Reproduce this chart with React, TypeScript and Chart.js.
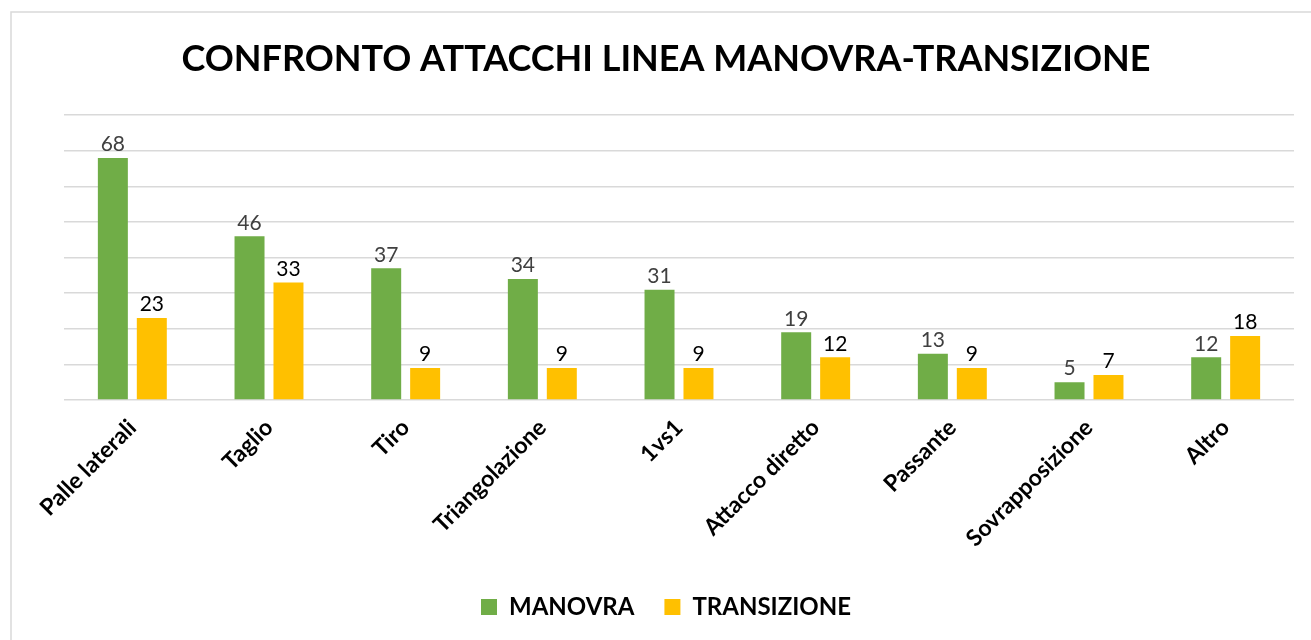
import React, { useEffect, useRef } from "react";
import { Chart, registerables } from "chart.js";

Chart.register(...registerables);

const categories = [
  "Palle laterali",
  "Taglio",
  "Tiro",
  "Triangolazione",
  "1vs1",
  "Attacco diretto",
  "Passante",
  "Sovrapposizione",
  "Altro",
];
const manovra = [68, 46, 37, 34, 31, 19, 13, 5, 12];
const transizione = [23, 33, 9, 9, 9, 12, 9, 7, 18];
const seriesNames = ["MANOVRA", "TRANSIZIONE"];
const titleText = "CONFRONTO ATTACCHI LINEA MANOVRA-TRANSIZIONE";

const FONT = "Lato, 'Open Sans', sans-serif";

const framePlugin = {
  id: "frame",
  beforeDraw(chart: any) {
    const ctx = chart.ctx;
    ctx.save();
    ctx.fillStyle = "#ffffff";
    ctx.fillRect(0, 0, chart.width, chart.height);
    ctx.strokeStyle = "#d9d9d9";
    ctx.lineWidth = 1.5;
    ctx.beginPath();
    ctx.moveTo(11, chart.height);
    ctx.lineTo(11, 12);
    ctx.lineTo(chart.width, 12);
    ctx.stroke();
    ctx.restore();
  },
};

const labelPlugin = {
  id: "valueLabels",
  afterDatasetsDraw(chart: any) {
    const ctx = chart.ctx;
    ctx.save();
    ctx.font = `21px ${FONT}`;
    ctx.textAlign = "center";
    ctx.textBaseline = "bottom";
    chart.data.datasets.forEach((ds: any, di: number) => {
      const meta = chart.getDatasetMeta(di);
      ctx.fillStyle = di === 0 ? "#404040" : "#000000";
      meta.data.forEach((el: any, i: number) => {
        ctx.fillText(String(ds.data[i]), el.x, el.y - 3);
      });
    });
    ctx.restore();
  },
};

export default function App() {
  const ref = useRef<HTMLCanvasElement>(null);
  useEffect(() => {
    document.body.style.margin = "0";
    const chart = new Chart(ref.current!, {
      type: "bar",
      data: {
        labels: categories,
        datasets: [
          {
            label: seriesNames[0],
            data: manovra,
            backgroundColor: "#70AD47",
            categoryPercentage: 0.57,
            barPercentage: 0.77,
          },
          {
            label: seriesNames[1],
            data: transizione,
            backgroundColor: "#FFC000",
            categoryPercentage: 0.57,
            barPercentage: 0.77,
          },
        ],
      },
      options: {
        animation: false,
        responsive: false,
        layout: { padding: { left: 38, right: 17, top: 30, bottom: 11 } },
        plugins: {
          title: {
            display: true,
            text: titleText,
            color: "#000",
            font: { family: FONT, size: 36, weight: "bold" },
            padding: { top: 8, bottom: 34 },
          },
          legend: {
            position: "bottom",
            labels: {
              color: "#000",
              font: { family: FONT, size: 24, weight: "bold" },
              boxWidth: 16,
              boxHeight: 16,
              padding: 30,
            },
          },
          tooltip: { enabled: false },
        },
        scales: {
          x: {
            grid: { display: false },
            border: { display: false },
            ticks: {
              color: "#000",
              font: { family: FONT, size: 23, weight: "bold" },
              minRotation: 45,
              maxRotation: 45,
              autoSkip: false,
              padding: 6,
            },
            afterFit: (s: any) => {
              s.height = 165;
            },
          },
          y: {
            min: 0,
            max: 80,
            ticks: { display: false, stepSize: 10 },
            grid: { color: "#d9d9d9", lineWidth: 1.5, drawTicks: false },
            border: { display: false },
            afterFit: (s: any) => {
              s.width = 26;
            },
          },
        },
      },
      plugins: [framePlugin, labelPlugin],
    });
    return () => chart.destroy();
  }, []);
  return (
    <div style={{ position: "absolute", left: 0, top: 0, width: 1311, height: 640 }}>
      <canvas ref={ref} width={1311} height={640} />
    </div>
  );
}
